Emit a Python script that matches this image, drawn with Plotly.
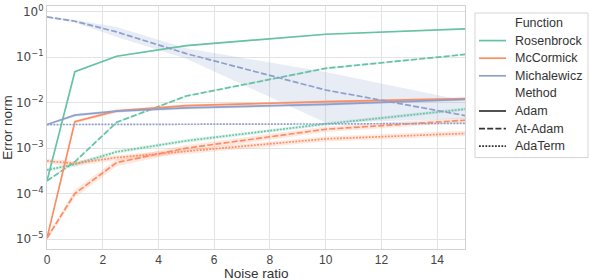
import plotly.graph_objects as go

# ---------------- data ----------------
noise = [0, 1, 2.5, 5, 10, 15]

functions = ["Rosenbrock", "McCormick", "Michalewicz"]
methods = ["Adam", "At-Adam", "AdaTerm"]

# Rosenbrock
ros_adam = [1.9e-4, 0.048, 0.105, 0.18, 0.32, 0.42]
ros_adam_lo = [1.8e-4, 0.046, 0.101, 0.174, 0.31, 0.41]
ros_adam_hi = [2.0e-4, 0.050, 0.109, 0.186, 0.33, 0.43]
ros_at = [1.9e-4, 5.0e-4, 3.7e-3, 0.014, 0.057, 0.115]
ros_at_lo = [1.8e-4, 4.7e-4, 3.5e-3, 0.0133, 0.054, 0.111]
ros_at_hi = [2.0e-4, 5.3e-4, 3.9e-3, 0.0147, 0.060, 0.119]
ros_term = [3.3e-4, 4.4e-4, 8.3e-4, 1.45e-3, 3.4e-3, 7.2e-3]
ros_term_lo = [3.0e-4, 3.9e-4, 7.5e-4, 1.32e-3, 3.1e-3, 6.6e-3]
ros_term_hi = [3.6e-4, 4.9e-4, 9.1e-4, 1.58e-3, 3.7e-3, 7.8e-3]

# McCormick
mcc_adam = [1.05e-5, 3.8e-3, 6.6e-3, 8.6e-3, 0.0105, 0.0123]
mcc_adam_lo = [1.0e-5, 3.5e-3, 6.1e-3, 8.0e-3, 0.0098, 0.0115]
mcc_adam_hi = [1.1e-5, 4.1e-3, 7.1e-3, 9.2e-3, 0.0112, 0.0131]
mcc_at = [1.05e-5, 1.0e-4, 4.8e-4, 1.0e-3, 2.6e-3, 4.1e-3]
mcc_at_lo = [0.95e-5, 0.82e-4, 4.0e-4, 0.85e-3, 2.25e-3, 3.6e-3]
mcc_at_hi = [1.15e-5, 1.22e-4, 5.7e-4, 1.17e-3, 3.0e-3, 4.7e-3]
mcc_term = [5.2e-4, 4.6e-4, 6.2e-4, 8.5e-4, 1.6e-3, 2.1e-3]
mcc_term_lo = [4.6e-4, 4.0e-4, 5.4e-4, 7.4e-4, 1.4e-3, 1.85e-3]
mcc_term_hi = [5.8e-4, 5.2e-4, 7.0e-4, 9.6e-4, 1.8e-3, 2.4e-3]

# Michalewicz
mic_adam = [3.3e-3, 5.3e-3, 6.5e-3, 7.7e-3, 9.2e-3, 0.0118]
mic_adam_lo = [3.1e-3, 4.9e-3, 6.0e-3, 7.1e-3, 8.5e-3, 0.0110]
mic_adam_hi = [3.5e-3, 5.7e-3, 7.0e-3, 8.3e-3, 9.9e-3, 0.0126]
mic_at = [0.77, 0.62, 0.36, 0.12, 0.019, 5.2e-3]
mic_at_lo = [0.74, 0.58, 0.28, 0.093, 3.6e-3, 4.4e-3]
mic_at_hi = [0.80, 0.66, 0.46, 0.157, 0.047, 0.011]
mic_term = [3.3e-3, 3.3e-3, 3.3e-3, 3.35e-3, 3.4e-3, 3.5e-3]
mic_term_lo = [3.2e-3, 3.2e-3, 3.2e-3, 3.25e-3, 3.3e-3, 3.4e-3]
mic_term_hi = [3.4e-3, 3.4e-3, 3.4e-3, 3.45e-3, 3.5e-3, 3.6e-3]

ytick_vals = [1e-5, 1e-4, 1e-3, 1e-2, 1e-1, 1e0]
ytick_text = ["10<sup>−5</sup>", "10<sup>−4</sup>", "10<sup>−3</sup>",
              "10<sup>−2</sup>", "10<sup>−1</sup>", "10<sup>0</sup>"]
xtick_vals = [0, 2, 4, 6, 8, 10, 12, 14]

# ---------------- style ----------------
colors = {"Rosenbrock": "#66c2a5", "McCormick": "#fc8d62", "Michalewicz": "#8da0cb"}
rgba = {"Rosenbrock": "rgba(102,194,165,0.2)", "McCormick": "rgba(252,141,98,0.2)",
        "Michalewicz": "rgba(141,160,203,0.2)"}
dashes = {"Adam": "solid", "At-Adam": "6px,2.2px", "AdaTerm": "1.8px,1.4px"}

series = [
    ("Rosenbrock", "Adam", ros_adam, ros_adam_lo, ros_adam_hi),
    ("Rosenbrock", "At-Adam", ros_at, ros_at_lo, ros_at_hi),
    ("Rosenbrock", "AdaTerm", ros_term, ros_term_lo, ros_term_hi),
    ("McCormick", "Adam", mcc_adam, mcc_adam_lo, mcc_adam_hi),
    ("McCormick", "At-Adam", mcc_at, mcc_at_lo, mcc_at_hi),
    ("McCormick", "AdaTerm", mcc_term, mcc_term_lo, mcc_term_hi),
    ("Michalewicz", "Adam", mic_adam, mic_adam_lo, mic_adam_hi),
    ("Michalewicz", "At-Adam", mic_at, mic_at_lo, mic_at_hi),
    ("Michalewicz", "AdaTerm", mic_term, mic_term_lo, mic_term_hi),
]

fig = go.Figure()

# bands
for f, m, y, lo, hi in series:
    fig.add_trace(go.Scatter(x=noise, y=hi, mode="lines", line=dict(width=0),
                             showlegend=False, hoverinfo="skip"))
    fig.add_trace(go.Scatter(x=noise, y=lo, mode="lines", line=dict(width=0),
                             fill="tonexty", fillcolor=rgba[f],
                             showlegend=False, hoverinfo="skip"))

# lines
for f, m, y, lo, hi in series:
    fig.add_trace(go.Scatter(x=noise, y=y, mode="lines",
                             line=dict(color=colors[f], width=1.7, dash=dashes[m]),
                             showlegend=False, name=f + " " + m))

# ---------------- layout geometry (pixels) ----------------
W, H = 590, 280
L, R, T, B = 47, 125, 6, 31
pw, ph = W - L - R, H - T - B


def px2x(px):
    return (px - L) / pw


def py2y(py):
    return (H - B - py) / ph


# ---------------- manual legend (seaborn style) ----------------
legend_rows = [("Function", None, None)] + [(f, colors[f], "solid") for f in functions] \
    + [("Method", None, None)] + [(m, "#333333", dashes[m]) for m in methods]

shapes = [dict(type="rect", xref="paper", yref="paper",
               x0=px2x(475), x1=px2x(588), y0=py2y(157.5), y1=py2y(13),
               line=dict(color="#d5d5d5", width=1), fillcolor="white", layer="above")]
annotations = []
row0, step = 23.0, 17.6
for i, (label, col, dsh) in enumerate(legend_rows):
    py = row0 + step * i
    if col is not None:
        shapes.append(dict(type="line", xref="paper", yref="paper",
                           x0=px2x(479), x1=px2x(506), y0=py2y(py), y1=py2y(py),
                           line=dict(color=col, width=1.7, dash=dsh), layer="above"))
    annotations.append(dict(text=label, xref="paper", yref="paper",
                            x=px2x(514), y=py2y(py), xanchor="left", yanchor="middle",
                            showarrow=False, borderpad=0,
                            font=dict(size=12.5, color="#333333")))

# x-axis title as annotation placed precisely
annotations.append(dict(text="Noise ratio", xref="paper", yref="paper",
                        x=0.5, y=py2y(273.5), xanchor="center", yanchor="middle",
                        showarrow=False, borderpad=0,
                        font=dict(size=13.5, color="#333333")))

grid = "#e3e3e3"
spine = "#d2d2d2"
fig.update_layout(
    width=W, height=H,
    margin=dict(l=L, r=R, t=T, b=B, autoexpand=False),
    paper_bgcolor="white", plot_bgcolor="white",
    showlegend=False,
    shapes=shapes, annotations=annotations,
    font=dict(family="Liberation Sans, Arial, sans-serif", size=12, color="#333333"),
    xaxis=dict(range=[0, 15], tickvals=xtick_vals, showgrid=True, gridcolor=grid,
               gridwidth=1, zeroline=False, showline=True, mirror=True,
               linecolor=spine, linewidth=1, ticks="", automargin=False,
               tickfont=dict(size=12, color="#444444")),
    yaxis=dict(type="log", range=[-5.22, 0.127], tickvals=ytick_vals,
               ticktext=ytick_text, showgrid=True, gridcolor=grid, gridwidth=1,
               zeroline=False, showline=True, mirror=True, linecolor=spine,
               linewidth=1, ticks="", automargin=False,
               tickfont=dict(family="DejaVu Sans", size=12, color="#444444"),
               title=dict(text="Error norm", standoff=2,
                          font=dict(size=13.5, color="#333333"))),
)

fig.write_html("out.html", config={"displayModeBar": False},
               post_script="document.body.style.margin='0px';")
